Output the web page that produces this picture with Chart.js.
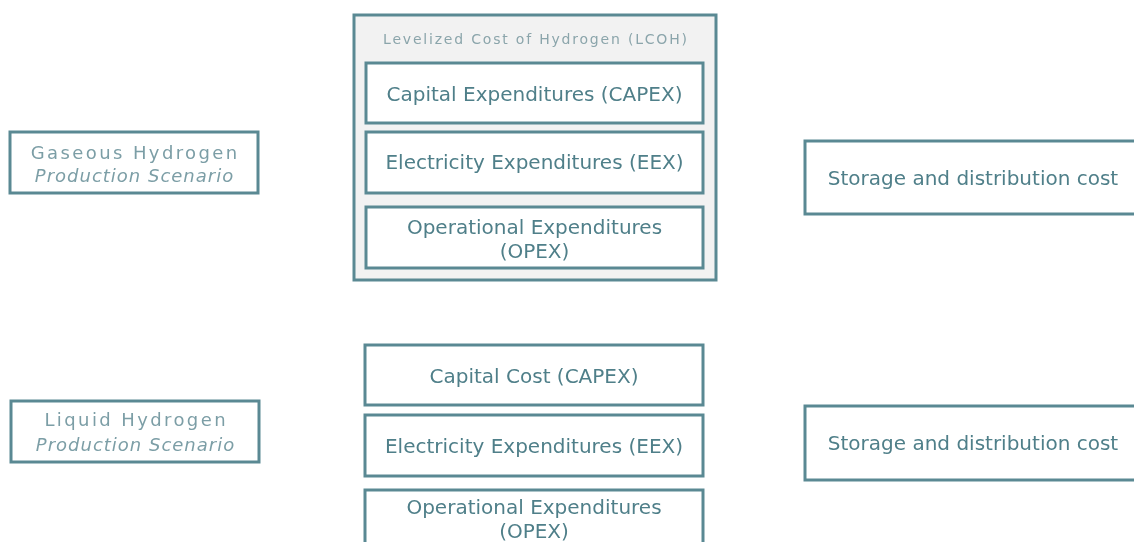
<!DOCTYPE html>
<html lang="en">
<head>
  <meta charset="UTF-8">
  <title>LCOH cost structure</title>
  <script src="https://cdn.jsdelivr.net/npm/chart.js"></script>
  <style>
    * { margin: 0; padding: 0; box-sizing: border-box; }
    html, body { width: 1134px; height: 542px; overflow: hidden; background: white; }
    #wrap { position: relative; width: 1134px; height: 542px; }
  </style>
</head>
<body>
  <div id="wrap"><canvas id="diagram"></canvas></div>

  <script>
    // texts of the diagram
    const scenarios = ['Gaseous Hydrogen', 'Liquid Hydrogen'];
    const scenarioSub = 'Production Scenario';
    const groupTitle = 'Levelized Cost of Hydrogen (LCOH)';
    const gaseousParts = ['Capital Expenditures (CAPEX)', 'Electricity Expenditures (EEX)', 'Operational Expenditures\n(OPEX)'];
    const liquidParts = ['Capital Cost (CAPEX)', 'Electricity Expenditures (EEX)', 'Operational Expenditures\n(OPEX)'];
    const downstream = ['Storage and distribution cost', 'Storage and distribution cost'];

    // box geometry in scale units (x: 0..1134, y: 0..542 top-down): [x0, y0, x1, y1]
    const scenarioBoxes = [[10, 132, 258, 193], [11, 401, 259, 462]];
    const groupBox = [354, 15, 716, 280];
    const gaseousBoxes = [[366, 63, 703, 123], [366, 132, 703, 193], [366, 207, 703, 268]];
    const liquidBoxes = [[365, 345, 703, 405], [365, 415, 703, 476], [365, 490, 703, 560]];
    const downstreamBoxes = [[805, 141, 1150, 214], [805, 406, 1150, 480]];

    const EDGE = '#5a8993';
    const TEXT = '#4f7f89';
    const SOFT = '#7c9ea6';
    const FONT = '"DejaVu Sans", Verdana, sans-serif';

    function box(ctx, sx, sy, b, fill) {
      const x0 = sx.getPixelForValue(b[0]), y0 = sy.getPixelForValue(b[1]);
      const x1 = sx.getPixelForValue(b[2]), y1 = sy.getPixelForValue(b[3]);
      ctx.fillStyle = fill;
      ctx.fillRect(x0, y0, x1 - x0, y1 - y0);
      ctx.strokeStyle = EDGE;
      ctx.lineWidth = 3;
      ctx.strokeRect(x0, y0, x1 - x0, y1 - y0);
      return { cx: (x0 + x1) / 2, cy: (y0 + y1) / 2 };
    }

    function label(ctx, text, cx, cy, font, color, spacing, lineH) {
      const lines = text.split('\n');
      ctx.font = font;
      ctx.fillStyle = color;
      ctx.textAlign = 'center';
      ctx.textBaseline = 'middle';
      ctx.letterSpacing = spacing + 'px';
      const top = cy - (lines.length - 1) * lineH / 2;
      lines.forEach((l, i) => ctx.fillText(l, cx + spacing / 2, top + i * lineH));
      ctx.letterSpacing = '0px';
    }

    const boxesPlugin = {
      id: 'boxes',
      afterDatasetsDraw(chart) {
        const ctx = chart.ctx, sx = chart.scales.x, sy = chart.scales.y;
        ctx.save();

        // LCOH group frame
        const g = box(ctx, sx, sy, groupBox, '#f2f2f2');
        label(ctx, groupTitle, g.cx, sy.getPixelForValue(40), '14px ' + FONT, '#8ba5ab', 1.8, 0);

        scenarios.forEach((s, i) => {
          const c = box(ctx, sx, sy, scenarioBoxes[i], 'white');
          label(ctx, s, c.cx, c.cy - 10 + (i === 0 ? 1.5 : 0), '18px ' + FONT, SOFT, 2.4, 0);
          label(ctx, scenarioSub, c.cx, c.cy + 14 + (i === 0 ? 1 : 0.5), 'italic 18px ' + FONT, SOFT, 1, 0);
        });

        gaseousParts.forEach((p, i) => {
          const c = box(ctx, sx, sy, gaseousBoxes[i], 'white');
          label(ctx, p, c.cx, c.cy + (i === 1 ? 1 : 3), '20px ' + FONT, TEXT, 0, 24);
        });

        liquidParts.forEach((p, i) => {
          const c = box(ctx, sx, sy, liquidBoxes[i], 'white');
          const cy = i === 2 ? sy.getPixelForValue(521) : c.cy + (i === 1 ? 2 : 3);
          label(ctx, p, c.cx, cy, '20px ' + FONT, TEXT, 0, 24);
        });

        downstream.forEach((d, i) => {
          const c = box(ctx, sx, sy, downstreamBoxes[i], 'white');
          label(ctx, d, sx.getPixelForValue(973), c.cy + 2, '20px ' + FONT, TEXT, 0, 0);
        });

        ctx.restore();
      }
    };

    new Chart(document.getElementById('diagram'), {
      type: 'scatter',
      data: { datasets: [{ data: [], pointRadius: 0 }] },
      options: {
        responsive: true,
        maintainAspectRatio: false,
        animation: false,
        layout: { padding: 0 },
        plugins: { legend: { display: false }, tooltip: { enabled: false } },
        scales: {
          x: { type: 'linear', min: 0, max: 1134, display: false },
          y: { type: 'linear', min: 0, max: 542, reverse: true, display: false }
        }
      },
      plugins: [boxesPlugin]
    });
  </script>
</body>
</html>
